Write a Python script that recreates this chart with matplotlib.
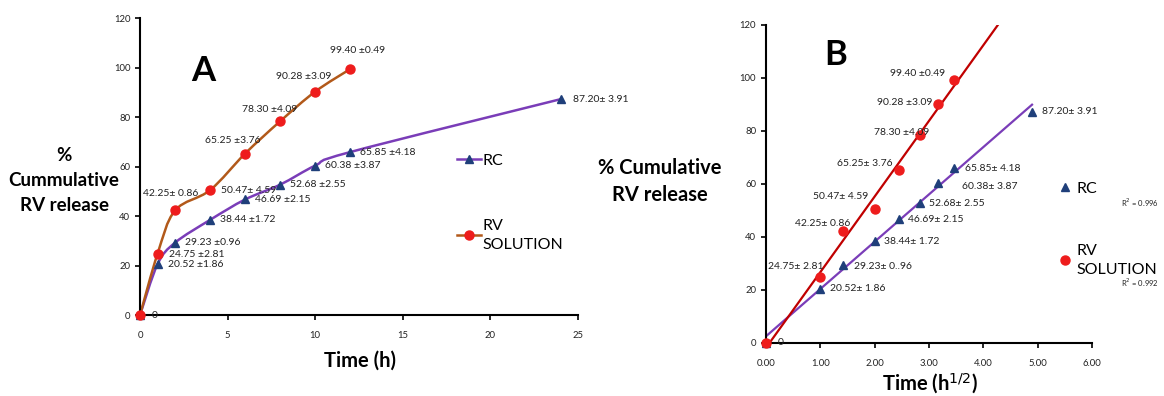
import numpy as np
import matplotlib
matplotlib.use("Agg")
import matplotlib.pyplot as plt
from matplotlib.path import Path
from matplotlib.patches import PathPatch
from matplotlib.lines import Line2D
from matplotlib.ticker import FormatStrFormatter

plt.rcParams['font.family'] = ['Lato', 'DejaVu Sans']

# ---- data ----
time_rc = [0, 1, 2, 4, 6, 8, 10, 12, 24]
release_rc = [0, 20.52, 29.23, 38.44, 46.69, 52.68, 60.38, 65.85, 87.20]
sd_rc = [None, 1.86, 0.96, 1.72, 2.15, 2.55, 3.87, 4.18, 3.91]

time_sol = [0, 1, 2, 4, 6, 8, 10, 12]
release_sol = [0, 24.75, 42.25, 50.47, 65.25, 78.30, 90.28, 99.40]
sd_sol = [None, 2.81, 0.86, 4.59, 3.76, 4.09, 3.09, 0.49]

r2_rc = "0.996"
r2_sol = "0.992"

# ---- styles ----
C_RC_LINE = "#7a3db8"
C_RC_MARK = "#1f3f7a"
C_SOL_LINE = "#b2591a"
C_SOL_MARK = "#ee1c1c"
C_SOL_FIT = "#c00000"
TXT = "#222222"
LBL = 7.5
TITLE_FS = 14.5


def smooth_path(x, y):
    """Bezier path through the points (Excel-style smoothed line)."""
    p = np.column_stack([x, y]).astype(float)
    n = len(p)
    verts = [p[0]]
    codes = [Path.MOVETO]
    for i in range(n - 1):
        p0 = p[i - 1] if i > 0 else p[i]
        p1, p2 = p[i], p[i + 1]
        p3 = p[i + 2] if i + 2 < n else p[i + 1]
        c1 = p1 + (p2 - p0) / 6.0
        c2 = p2 - (p3 - p1) / 6.0
        verts += [c1, c2, p2]
        codes += [Path.CURVE4] * 3
    return Path(verts, codes)


def fmt(v, s, style):
    if style == 'a':
        return f"{v:.2f} ±{s:.2f}"
    return f"{v:.2f}± {s:.2f}"


fig = plt.figure(figsize=(11.64, 3.96), dpi=100)

# ================= Panel A =================
axA = fig.add_axes([0.1203, 0.2045, 0.3763, 0.75])
axA.add_patch(PathPatch(smooth_path(time_rc, release_rc), fill=False,
                        edgecolor=C_RC_LINE, lw=1.8, zorder=2))
axA.add_patch(PathPatch(smooth_path(time_sol, release_sol), fill=False,
                        edgecolor=C_SOL_LINE, lw=1.8, zorder=2))
axA.plot(time_rc, release_rc, ls='none', marker='^', ms=5.5,
         color=C_RC_MARK, zorder=3, clip_on=False)
axA.plot(time_sol, release_sol, ls='none', marker='o', ms=6.5,
         color=C_SOL_MARK, zorder=4, clip_on=False)

axA.set_xlim(0, 25)
axA.set_ylim(0, 120)
axA.set_xticks(range(0, 26, 5))
axA.set_yticks(range(0, 121, 20))

# value labels
rcA_off = [(10, 0)] * 8 + [(12, 0)]
for i in range(1, len(time_rc)):
    label = fmt(release_rc[i], sd_rc[i], 'a')
    if i == len(time_rc) - 1:
        label = fmt(release_rc[i], sd_rc[i], 'b')
    axA.annotate(label, (time_rc[i], release_rc[i]), xytext=rcA_off[i],
                 textcoords='offset pixels', ha='left', va='center',
                 fontsize=LBL, color=TXT)
solA_off = [None, (11, -1, 'left'), (-4, 17, 'center'), (11, 0, 'left'),
            (-12, 13, 'center'), (-11, 12, 'center'), (-12, 15, 'center'),
            (7, 19, 'center')]
for i in range(1, len(time_sol)):
    dx, dy, ha = solA_off[i]
    style = 'b' if i in (2, 3) else 'a'
    axA.annotate(fmt(release_sol[i], sd_sol[i], style),
                 (time_sol[i], release_sol[i]), xytext=(dx, dy),
                 textcoords='offset pixels', ha=ha, va='center',
                 fontsize=LBL, color=TXT, zorder=5)
axA.annotate("0", (time_rc[0], release_rc[0]), xytext=(12, 0),
             textcoords='offset pixels', ha='left', va='center',
             fontsize=LBL, color=TXT)

axA.text(0.144, 0.82, "A", transform=axA.transAxes, fontsize=25,
         fontweight='bold', ha='center', va='center')

legA = axA.legend(handles=[
    Line2D([], [], color=C_RC_LINE, lw=1.8, marker='^', ms=5.5,
           mfc=C_RC_MARK, mec=C_RC_MARK),
    Line2D([], [], color=C_SOL_LINE, lw=1.8, marker='o', ms=6.5,
           mfc=C_SOL_MARK, mec=C_SOL_MARK)],
    labels=["RC", "RV\nSOLUTION"], frameon=False, fontsize=11.5,
    loc='upper left', bbox_to_anchor=(0.38, 0.648), bbox_transform=fig.transFigure,
    handlelength=1.5, handletextpad=0.1, labelspacing=3.2)
for t in legA.get_texts():
    t.set_linespacing(1.45)

fig.text(0.055, 0.544, "%\nCummulative\nRV release", ha='center', va='center',
         fontsize=13.5, fontweight='bold', linespacing=1.55)
axA.set_xlabel("Time (h)", fontsize=TITLE_FS, fontweight='bold')
axA.xaxis.set_label_coords(0.503, -0.12)

# ================= Panel B =================
sqrt_rc = np.sqrt(time_rc)
sqrt_sol = np.sqrt(time_sol)

axB = fig.add_axes([0.658, 0.134, 0.28, 0.803])
k_rc, b_rc = np.polyfit(sqrt_rc, release_rc, 1)
k_sol, b_sol = np.polyfit(sqrt_sol, release_sol, 1)
xr = np.array([0, sqrt_rc[-1]])
axB.plot(xr, k_rc * xr + b_rc, color=C_RC_LINE, lw=1.6, zorder=2)
xs = np.array([0, 4.6])
axB.plot(xs, k_sol * xs + b_sol, color=C_SOL_FIT, lw=1.6, zorder=2)
axB.plot(sqrt_rc, release_rc, ls='none', marker='^', ms=5.5,
         color=C_RC_MARK, zorder=3, clip_on=False)
axB.plot(sqrt_sol, release_sol, ls='none', marker='o', ms=6.5,
         color=C_SOL_MARK, zorder=4, clip_on=False)

axB.set_xlim(0, 6)
axB.set_ylim(0, 120)
axB.set_xticks(range(0, 7))
axB.xaxis.set_major_formatter(FormatStrFormatter('%.2f'))
axB.set_yticks(range(0, 121, 20))

rcB_off = [None, (10, 0), (11, -1), (9, 0), (9, 0), (9, 0), (24, -4),
           (11, 0), (10, 0)]
for i in range(1, len(sqrt_rc)):
    label = fmt(release_rc[i], sd_rc[i], 'b')
    if i == 2:
        label = "29.23± 0..96"
    axB.annotate(label, (sqrt_rc[i], release_rc[i]), xytext=rcB_off[i],
                 textcoords='offset pixels', ha='left', va='center',
                 fontsize=LBL, color=TXT)
solB_off = [None, (3, 11), (8, 7), (-6, 13), (-6, 7), (10, 3), (-5, 1), (-9, 6)]
for i in range(1, len(sqrt_sol)):
    style = 'a' if i >= 5 else 'b'
    axB.annotate(fmt(release_sol[i], sd_sol[i], style),
                 (sqrt_sol[i], release_sol[i]), xytext=solB_off[i],
                 textcoords='offset pixels', ha='right', va='center',
                 fontsize=LBL, color=TXT, zorder=5)
axB.annotate("0", (sqrt_rc[0], release_rc[0]), xytext=(12, 0),
             textcoords='offset pixels', ha='left', va='center',
             fontsize=LBL, color=TXT)

axB.text(0.215, 0.905, "B", transform=axB.transAxes, fontsize=25,
         fontweight='bold', ha='center', va='center')

legB = axB.legend(handles=[
    Line2D([], [], ls='none', marker='^', ms=5.5, color=C_RC_MARK),
    Line2D([], [], ls='none', marker='o', ms=6.5, color=C_SOL_MARK)],
    labels=["RC", "RV\nSOLUTION"], frameon=False, fontsize=11.5,
    loc='upper left', bbox_to_anchor=(0.897, 0.578), bbox_transform=fig.transFigure,
    handlelength=0.8, handletextpad=0.3, labelspacing=3.0)
for t in legB.get_texts():
    t.set_linespacing(1.45)

fig.text(0.963, 0.488, f"R$^2$ = {r2_rc}", fontsize=5.5, ha='left', va='center', color=TXT)
fig.text(0.963, 0.285, f"R$^2$ = {r2_sol}", fontsize=5.5, ha='left', va='center', color=TXT)

fig.text(0.567, 0.542, "% Cumulative\nRV release", ha='center', va='center',
         fontsize=TITLE_FS, fontweight='bold', linespacing=1.45)
axB.set_xlabel("Time (h$^{1/2}$)", fontsize=TITLE_FS, fontweight='bold')
axB.xaxis.set_label_coords(0.504, -0.09)

for ax in (axA, axB):
    for side in ('top', 'right'):
        ax.spines[side].set_visible(False)
    for side in ('left', 'bottom'):
        ax.spines[side].set_linewidth(1.5)
        ax.spines[side].set_color('black')
    ax.tick_params(axis='both', labelsize=6.8, labelcolor=TXT, length=3.5,
                   width=1.2, direction='out')
    ax.tick_params(axis='x', pad=8)

fig.savefig("out.png", dpi=100)
